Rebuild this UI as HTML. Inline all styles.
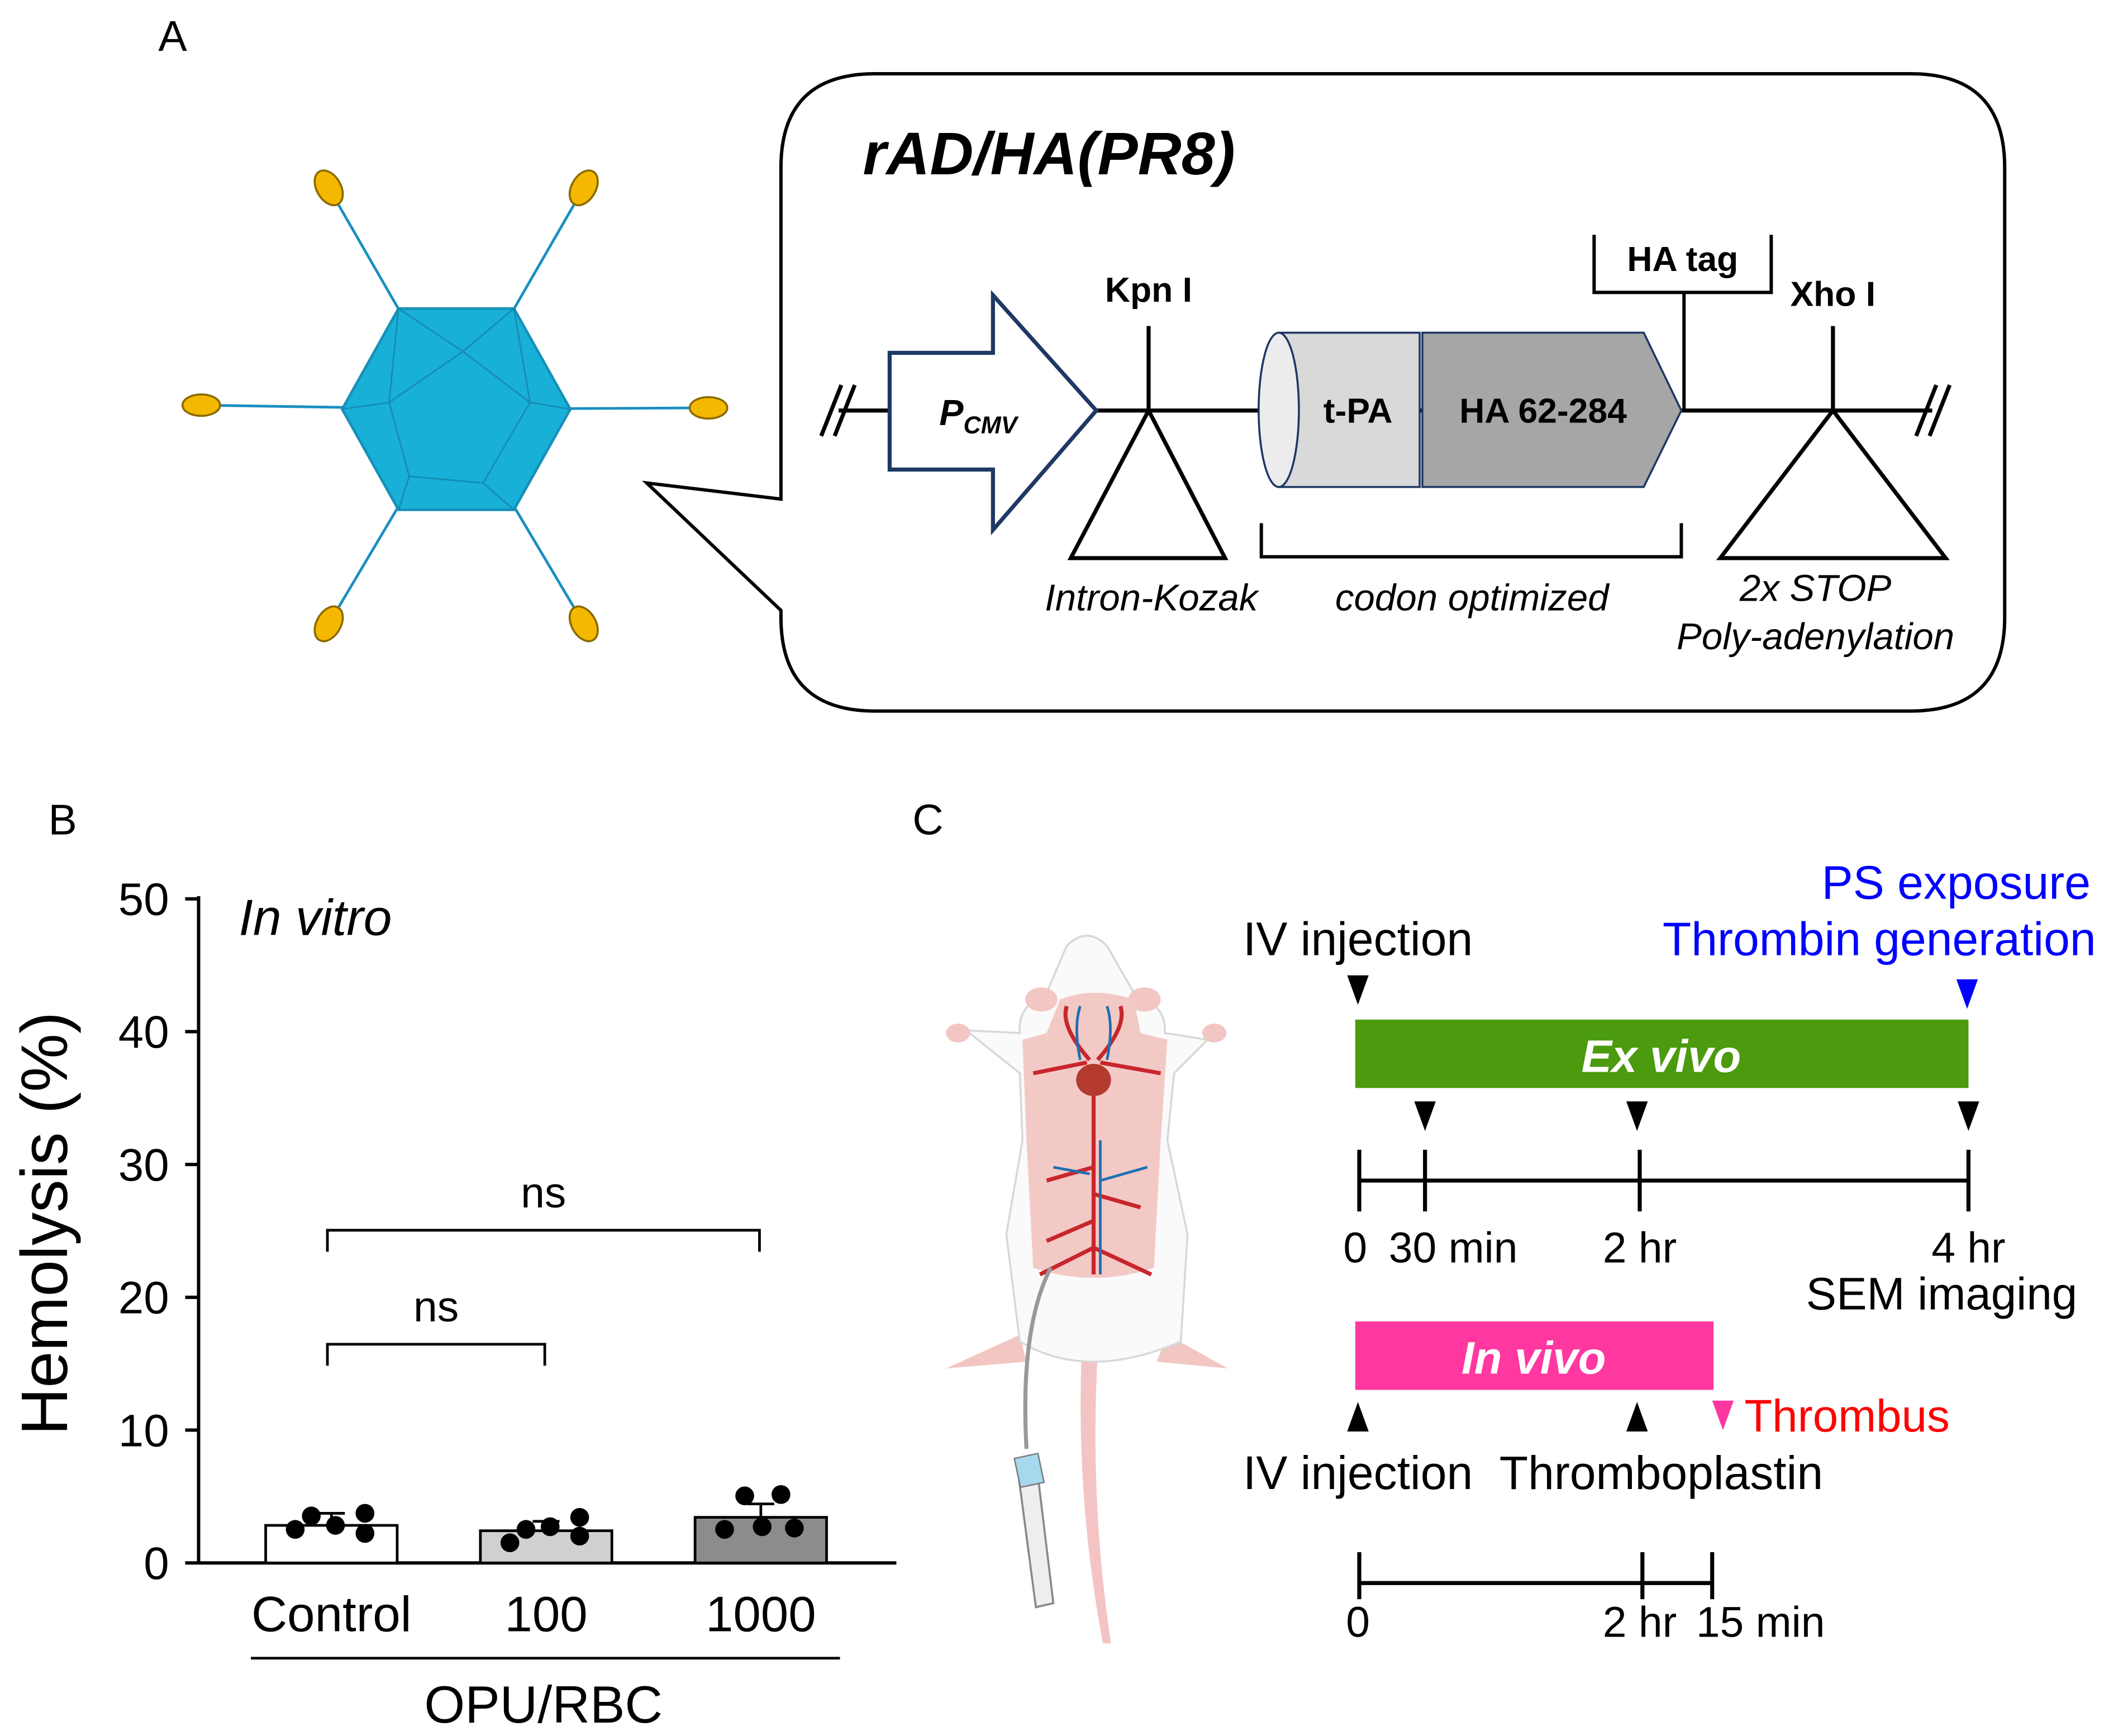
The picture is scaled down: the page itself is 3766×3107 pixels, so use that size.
<!DOCTYPE html>
<html><head><meta charset="utf-8"><style>
html,body{margin:0;padding:0;background:#fff;}
svg{display:block;}
text{font-family:"Liberation Sans",Arial,sans-serif;}
</style></head><body>
<svg width="3766" height="3107" viewBox="0 0 1568 1294" preserveAspectRatio="none" xmlns="http://www.w3.org/2000/svg">
<rect width="1568" height="1294" fill="#fff"/>
<!-- Panel A -->
<text x="118" y="38" font-size="32">A</text>
<g stroke="#1a8fc0" stroke-width="2">
<line x1="340" y1="305" x2="245" y2="140"/><line x1="340" y1="305" x2="435" y2="140"/>
<line x1="340" y1="305" x2="150" y2="302"/><line x1="340" y1="305" x2="528" y2="304"/>
<line x1="340" y1="305" x2="245" y2="465"/><line x1="340" y1="305" x2="435" y2="465"/>
</g>
<g fill="#f5b800" stroke="#8a6a00" stroke-width="1.5">
<ellipse cx="245" cy="140" rx="9" ry="14" transform="rotate(-30 245 140)"/>
<ellipse cx="435" cy="140" rx="9" ry="14" transform="rotate(30 435 140)"/>
<ellipse cx="150" cy="302" rx="14" ry="8"/>
<ellipse cx="528" cy="304" rx="14" ry="8"/>
<ellipse cx="245" cy="465" rx="9" ry="14" transform="rotate(30 245 465)"/>
<ellipse cx="435" cy="465" rx="9" ry="14" transform="rotate(-30 435 465)"/>
</g>
<polygon points="255,305 297,230 383,230 425,305 383,380 297,380" fill="#19b0d8" stroke="#1790b8" stroke-width="2"/>
<g stroke="#1585ab" stroke-width="1.2" fill="none" opacity="0.8">
<polygon points="290,300 345,262 395,300 360,360 305,355"/>
<line x1="297" y1="230" x2="345" y2="262"/><line x1="383" y1="230" x2="345" y2="262"/>
<line x1="255" y1="305" x2="290" y2="300"/><line x1="425" y1="305" x2="395" y2="300"/>
<line x1="297" y1="380" x2="305" y2="355"/><line x1="383" y1="380" x2="360" y2="360"/>
<line x1="297" y1="230" x2="290" y2="300"/><line x1="383" y1="230" x2="395" y2="300"/>
</g>
<!-- callout -->
<path d="M652,55 H1424 Q1494,55 1494,125 V460 Q1494,530 1424,530 H652 Q582,530 582,460 V455 L482,360 L582,372 V125 Q582,55 652,55 Z" fill="#fff" stroke="#000" stroke-width="2.5"/>
<text x="643" y="130" font-size="45" font-weight="bold" font-style="italic">rAD/HA(PR8)</text>
<line x1="625" y1="306" x2="1440" y2="306" stroke="#000" stroke-width="3"/>
<g stroke="#000" stroke-width="3"><line x1="612" y1="325" x2="627" y2="287"/><line x1="622" y1="325" x2="637" y2="287"/>
<line x1="1428" y1="325" x2="1443" y2="287"/><line x1="1438" y1="325" x2="1453" y2="287"/></g>
<polygon points="663,263 740,263 740,220 817,306 740,395 740,350 663,350" fill="#fff" stroke="#1f3864" stroke-width="3"/>
<text x="700" y="317" font-size="27" font-weight="bold" font-style="italic">P<tspan font-size="18" dy="6">CMV</tspan></text>
<line x1="856" y1="243" x2="856" y2="306" stroke="#000" stroke-width="3"/>
<text x="856" y="225" font-size="26" font-weight="bold" text-anchor="middle">Kpn I</text>
<polygon points="856,306 798,416 913,416" fill="none" stroke="#000" stroke-width="3"/>
<rect x="953" y="248" width="105" height="115" fill="#d9d9d9" stroke="#1f3864" stroke-width="1.5"/>
<ellipse cx="953" cy="305.5" rx="15" ry="57.5" fill="#ececec" stroke="#1f3864" stroke-width="1.5"/>
<polygon points="1060,248 1225,248 1253,306 1225,363 1060,363" fill="#a6a6a6" stroke="#1f3864" stroke-width="1.5"/>
<text x="1012" y="315" font-size="26" font-weight="bold" text-anchor="middle">t-PA</text>
<text x="1150" y="315" font-size="26" font-weight="bold" text-anchor="middle">HA 62-284</text>
<polyline points="1188,175 1188,218 1320,218 1320,175" fill="none" stroke="#000" stroke-width="2.5"/>
<line x1="1255" y1="218" x2="1255" y2="306" stroke="#000" stroke-width="2.5"/>
<text x="1254" y="202" font-size="26" font-weight="bold" text-anchor="middle">HA tag</text>
<line x1="1366" y1="243" x2="1366" y2="306" stroke="#000" stroke-width="3"/>
<text x="1366" y="228" font-size="26" font-weight="bold" text-anchor="middle">Xho I</text>
<polygon points="1366,306 1282,416 1450,416" fill="none" stroke="#000" stroke-width="3"/>
<polyline points="940,390 940,415 1253,415 1253,390" fill="none" stroke="#000" stroke-width="2.5"/>
<g font-size="28" font-style="italic" text-anchor="middle">
<text x="858" y="455">Intron-Kozak</text>
<text x="1097" y="455">codon optimized</text>
<text x="1353" y="448">2x STOP</text>
<text x="1353" y="484">Poly-adenylation</text>
</g>
<!-- Panel B -->
<text x="36" y="622" font-size="32">B</text>
<g stroke="#000" stroke-width="2.5">
<line x1="148" y1="668" x2="148" y2="1166"/>
<line x1="148" y1="1165" x2="668" y2="1165"/>
<line x1="138" y1="670" x2="148" y2="670"/><line x1="138" y1="769" x2="148" y2="769"/>
<line x1="138" y1="868" x2="148" y2="868"/><line x1="138" y1="967" x2="148" y2="967"/>
<line x1="138" y1="1066" x2="148" y2="1066"/><line x1="138" y1="1165" x2="148" y2="1165"/>
</g>
<g font-size="34" text-anchor="end">
<text x="126" y="682">50</text><text x="126" y="781">40</text><text x="126" y="880">30</text>
<text x="126" y="979">20</text><text x="126" y="1078">10</text><text x="126" y="1177">0</text>
</g>
<text transform="translate(50,912) rotate(-90)" font-size="49" text-anchor="middle">Hemolysis (%)</text>
<text x="178" y="697" font-size="38" font-style="italic">In vitro</text>
<g stroke="#000" stroke-width="2">
<rect x="198" y="1137" width="98" height="28" fill="#fff"/>
<rect x="358" y="1141" width="98" height="24" fill="#d0d0d0"/>
<rect x="518" y="1131" width="98" height="34" fill="#8c8c8c"/>
<polyline points="237,1128 257,1128" /><line x1="247" y1="1128" x2="247" y2="1137"/>
<polyline points="397,1134 417,1134" /><line x1="407" y1="1134" x2="407" y2="1141"/>
<polyline points="557,1121 577,1121" /><line x1="567" y1="1121" x2="567" y2="1131"/>
</g>
<g fill="#000">
<circle cx="220" cy="1140" r="7"/><circle cx="232" cy="1130" r="7"/><circle cx="250" cy="1137" r="7"/><circle cx="272" cy="1128" r="7"/><circle cx="272" cy="1143" r="7"/>
<circle cx="380" cy="1150" r="7"/><circle cx="392" cy="1140" r="7"/><circle cx="410" cy="1138" r="7"/><circle cx="432" cy="1131" r="7"/><circle cx="432" cy="1145" r="7"/>
<circle cx="540" cy="1140" r="7"/><circle cx="555" cy="1115" r="7"/><circle cx="568" cy="1138" r="7"/><circle cx="582" cy="1114" r="7"/><circle cx="592" cy="1139" r="7"/>
</g>
<polyline points="244,1018 244,1002 406,1002 406,1018" fill="none" stroke="#000" stroke-width="2"/>
<polyline points="244,933 244,917 566,917 566,933" fill="none" stroke="#000" stroke-width="2"/>
<text x="325" y="985" font-size="32" text-anchor="middle">ns</text>
<text x="405" y="900" font-size="32" text-anchor="middle">ns</text>
<g font-size="37" text-anchor="middle">
<text x="247" y="1216">Control</text><text x="407" y="1216">100</text><text x="567" y="1216">1000</text>
<text x="405" y="1284" font-size="39">OPU/RBC</text></g>
<line x1="187" y1="1236" x2="626" y2="1236" stroke="#000" stroke-width="2"/>
<!-- Panel C -->
<text x="680" y="622" font-size="32">C</text>
<!-- mouse -->
<g>
<path d="M818,1010 Q812,1120 828,1225 L822,1225 Q802,1120 806,1010 Z" fill="#f4c4c4"/>
<path d="M760,995 L705,1020 L765,1015 Z M870,995 L915,1020 L862,1015 Z" fill="#f2c6c2"/>
<path d="M795,705 Q810,690 825,705 L845,740 Q870,750 868,770 L900,775 L910,765 L875,800 L870,850 L885,920 L880,1000 Q810,1030 760,1000 L750,920 L762,850 L760,800 L720,768 L760,770 Q758,750 780,740 Z" fill="#fafafa" stroke="#d8d8d8" stroke-width="1.5"/>
<ellipse cx="714" cy="770" rx="9" ry="7" fill="#f2c6c2"/><ellipse cx="905" cy="770" rx="9" ry="7" fill="#f2c6c2"/>
<ellipse cx="776" cy="745" rx="12" ry="9" fill="#f2c6c2"/><ellipse cx="853" cy="745" rx="12" ry="9" fill="#f2c6c2"/>
<path d="M790,745 Q815,735 845,745 L850,770 L870,775 L865,850 L860,945 Q815,960 770,945 L765,850 L762,775 L780,770 Z" fill="#f3c9c6"/>
<g stroke="#c8262c" stroke-width="3" fill="none">
<path d="M815,800 L815,950"/><path d="M815,870 L780,880"/><path d="M815,890 L850,900"/><path d="M815,910 L780,925"/><path d="M815,930 L775,950"/><path d="M815,930 L858,950"/>
<path d="M812,790 Q790,765 795,750"/><path d="M818,790 Q840,765 835,750"/><path d="M810,792 L770,800"/><path d="M820,792 L865,800"/>
</g>
<g stroke="#1f6fb0" stroke-width="2" fill="none"><path d="M820,850 L820,950"/><path d="M820,880 L855,870"/><path d="M812,875 L785,870"/><path d="M805,790 Q800,765 805,750"/><path d="M825,790 Q830,765 825,750"/></g>
<ellipse cx="815" cy="805" rx="13" ry="12" fill="#b33a2c"/>
<path d="M783,945 Q760,990 765,1080" stroke="#999" stroke-width="3" fill="none"/>
<path d="M758,1092 L772,1088 L785,1195 L772,1198 Z" fill="#eee" stroke="#888" stroke-width="1.5"/>
<rect x="758" y="1085" width="18" height="22" fill="#a6d8ee" stroke="#777" stroke-width="1" transform="rotate(-12 767 1096)"/>
</g>
<!-- timeline -->
<text x="1012" y="712" font-size="35" text-anchor="middle">IV injection</text>
<text x="1558" y="670" font-size="35" fill="#0000ff" text-anchor="end">PS exposure</text>
<text x="1562" y="712" font-size="35" fill="#0000ff" text-anchor="end">Thrombin generation</text>
<polygon points="1458,730 1474,730 1466,752" fill="#0000ff"/>
<polygon points="1004,727 1020,727 1012,749" fill="#000"/>
<rect x="1010" y="760" width="457" height="51" fill="#4c9a0e"/>
<text x="1238" y="799" font-size="34" font-weight="bold" font-style="italic" fill="#fff" text-anchor="middle">Ex vivo</text>
<polygon points="1054,821 1070,821 1062,843" fill="#000"/>
<polygon points="1212,821 1228,821 1220,843" fill="#000"/>
<polygon points="1459,821 1475,821 1467,843" fill="#000"/>
<g stroke="#000" stroke-width="3">
<line x1="1013" y1="880" x2="1467" y2="880"/>
<line x1="1013" y1="857" x2="1013" y2="903"/><line x1="1062" y1="857" x2="1062" y2="903"/>
<line x1="1222" y1="857" x2="1222" y2="903"/><line x1="1467" y1="857" x2="1467" y2="903"/>
</g>
<g font-size="32" text-anchor="middle">
<text x="1010" y="941">0</text><text x="1083" y="941">30 min</text><text x="1222" y="941">2 hr</text><text x="1467" y="941">4 hr</text>
<text x="1447" y="976" font-size="34">SEM imaging</text></g>
<rect x="1010" y="985" width="267" height="51" fill="#ff37a0"/>
<text x="1143" y="1024" font-size="34" font-weight="bold" font-style="italic" fill="#fff" text-anchor="middle">In vivo</text>
<polygon points="1004,1067 1020,1067 1012,1045" fill="#000"/>
<polygon points="1212,1067 1228,1067 1220,1045" fill="#000"/>
<polygon points="1276,1044 1292,1044 1284,1066" fill="#ff37a0"/>
<text x="1300" y="1067" font-size="34" fill="#ff0000">Thrombus</text>
<text x="1012" y="1110" font-size="35" text-anchor="middle">IV injection</text>
<text x="1238" y="1110" font-size="35" text-anchor="middle">Thromboplastin</text>
<g stroke="#000" stroke-width="3">
<line x1="1013" y1="1180" x2="1276" y2="1180"/>
<line x1="1013" y1="1157" x2="1013" y2="1192"/><line x1="1224" y1="1157" x2="1224" y2="1192"/><line x1="1276" y1="1157" x2="1276" y2="1192"/>
</g>
<g font-size="32" text-anchor="middle">
<text x="1012" y="1220">0</text><text x="1222" y="1220">2 hr</text><text x="1312" y="1220">15 min</text></g>
</svg>
</body></html>
